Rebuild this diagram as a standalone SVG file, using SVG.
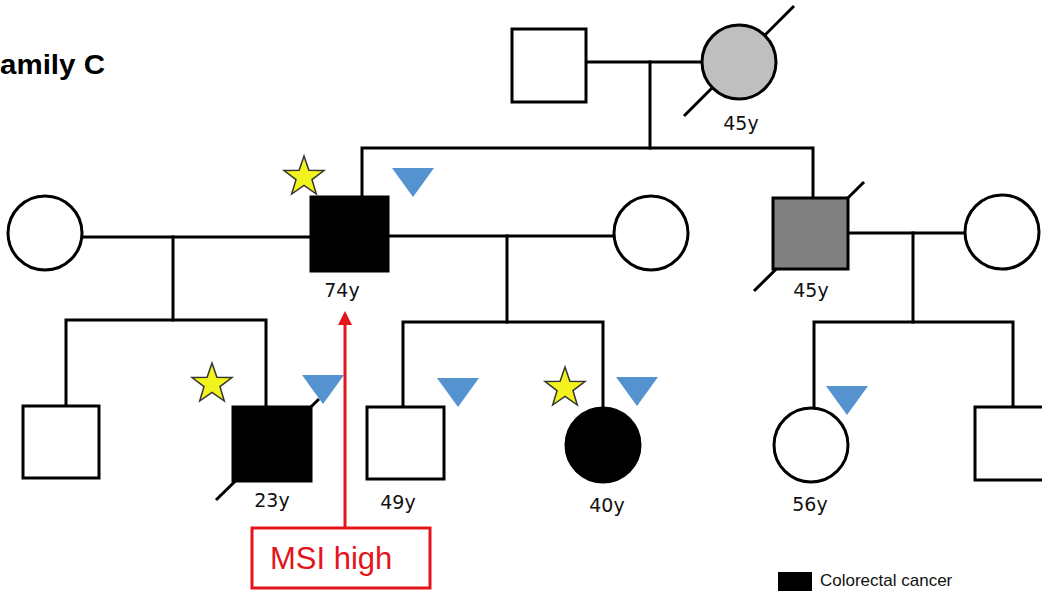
<svg xmlns="http://www.w3.org/2000/svg" width="1042" height="591" viewBox="0 0 1042 591">
<defs>
<style>
.ln{fill:none;stroke:#000;stroke-width:3;stroke-linecap:square}
.sl{stroke:#000;stroke-width:3}
.nd{stroke:#000;stroke-width:3}
.wt{fill:#fff}
.bk{fill:#000}
.age{font-family:"DejaVu Sans",Verdana,sans-serif;font-size:19px;fill:#111;text-anchor:middle}
.star{fill:#f2f21e;stroke:#333;stroke-width:1.5;stroke-linejoin:miter}
.tri{fill:#5592d0}
</style>
<path id="star" d="M0,-21 L4.9,-6.8 L20,-6.5 L8,2.6 L12.3,17 L0,8.4 L-12.3,17 L-8,2.6 L-20,-6.5 L-4.9,-6.8 Z"/>
<path id="tri" d="M0,0 L42,0 L21,29 Z"/>
</defs>
<rect width="1042" height="591" fill="#fff"/>
<text x="0" y="74" font-family="Liberation Sans,Arial,sans-serif" font-weight="bold" font-size="27" textLength="105" lengthAdjust="spacingAndGlyphs" fill="#000">amily C</text>
<g id="connectors">
<path class="ln" d="M586,62 H702"/>
<path class="ln" d="M650,62 V148"/>
<path class="ln" d="M362,197 V148 H813 V198"/>
<path class="ln" d="M82,237 H311"/>
<path class="ln" d="M173,237 V320"/>
<path class="ln" d="M66,406 V320 H266 V407"/>
<path class="ln" d="M388,236 H614"/>
<path class="ln" d="M507,236 V322"/>
<path class="ln" d="M403,407 V322 H603 V407"/>
<path class="ln" d="M848,233 H965"/>
<path class="ln" d="M913,233 V322"/>
<path class="ln" d="M814,408 V322 H1013 V407"/>
</g>
<g id="grandfather"><rect class="nd wt" x="512" y="29" width="74" height="73"/></g>
<g id="grandmother">
<line class="sl" x1="684" y1="116" x2="794" y2="6"/>
<circle class="nd" fill="#bfbfbf" cx="739" cy="62" r="37"/>
<text class="age" x="741" y="130">45y</text>
</g>
<g id="wife1"><circle class="nd wt" cx="45" cy="233" r="37"/></g>
<g id="father">
<rect class="nd bk" x="311" y="197" width="77" height="74"/>
<use href="#star" class="star" x="304" y="177"/>
<use href="#tri" class="tri" x="392" y="168"/>
<text class="age" x="342" y="297">74y</text>
</g>
<g id="wife2"><circle class="nd wt" cx="651" cy="233" r="37"/></g>
<g id="uncle">
<line class="sl" x1="754" y1="291" x2="864" y2="182"/>
<rect class="nd" fill="#808080" x="773" y="198" width="75" height="71"/>
<text class="age" x="811" y="297">45y</text>
</g>
<g id="uncleWife"><circle class="nd wt" cx="1002" cy="232" r="37"/></g>
<g id="child1"><rect class="nd wt" x="23" y="406" width="76" height="72"/></g>
<g id="child23">
<line class="sl" x1="216" y1="500" x2="319" y2="399"/>
<rect class="nd bk" x="233" y="407" width="78" height="74"/>
<use href="#star" class="star" x="212" y="384"/>
<use href="#tri" class="tri" x="302" y="375"/>
<text class="age" x="272" y="507">23y</text>
</g>
<g id="child49">
<rect class="nd wt" x="367" y="407" width="77" height="72"/>
<use href="#tri" class="tri" x="437" y="378"/>
<text class="age" x="398" y="509">49y</text>
</g>
<g id="child40">
<circle class="nd bk" cx="603" cy="445" r="37"/>
<use href="#star" class="star" x="565" y="388"/>
<use href="#tri" class="tri" x="616" y="377"/>
<text class="age" x="607" y="512">40y</text>
</g>
<g id="cousin56">
<circle class="nd wt" cx="811" cy="445" r="37"/>
<use href="#tri" class="tri" x="826" y="386"/>
<text class="age" x="810" y="511">56y</text>
</g>
<g id="cousinR"><rect class="nd wt" x="975" y="407" width="80" height="73"/></g>
<g id="msi">
<line x1="345" y1="528" x2="345" y2="322" stroke="#e3141c" stroke-width="3"/>
<polygon points="345,311 338,325 352,325" fill="#e3141c"/>
<rect x="252" y="528" width="178" height="60" fill="#fff" stroke="#e3141c" stroke-width="3"/>
<text x="270" y="569" font-family="Liberation Sans,Arial,sans-serif" font-size="31" fill="#e3141c">MSI high</text>
</g>
<g id="legend">
<rect x="778" y="572" width="34" height="25" fill="#000"/>
<text x="820" y="586" font-family="Liberation Sans,Arial,sans-serif" font-size="17" fill="#111">Colorectal cancer</text>
</g>
</svg>
